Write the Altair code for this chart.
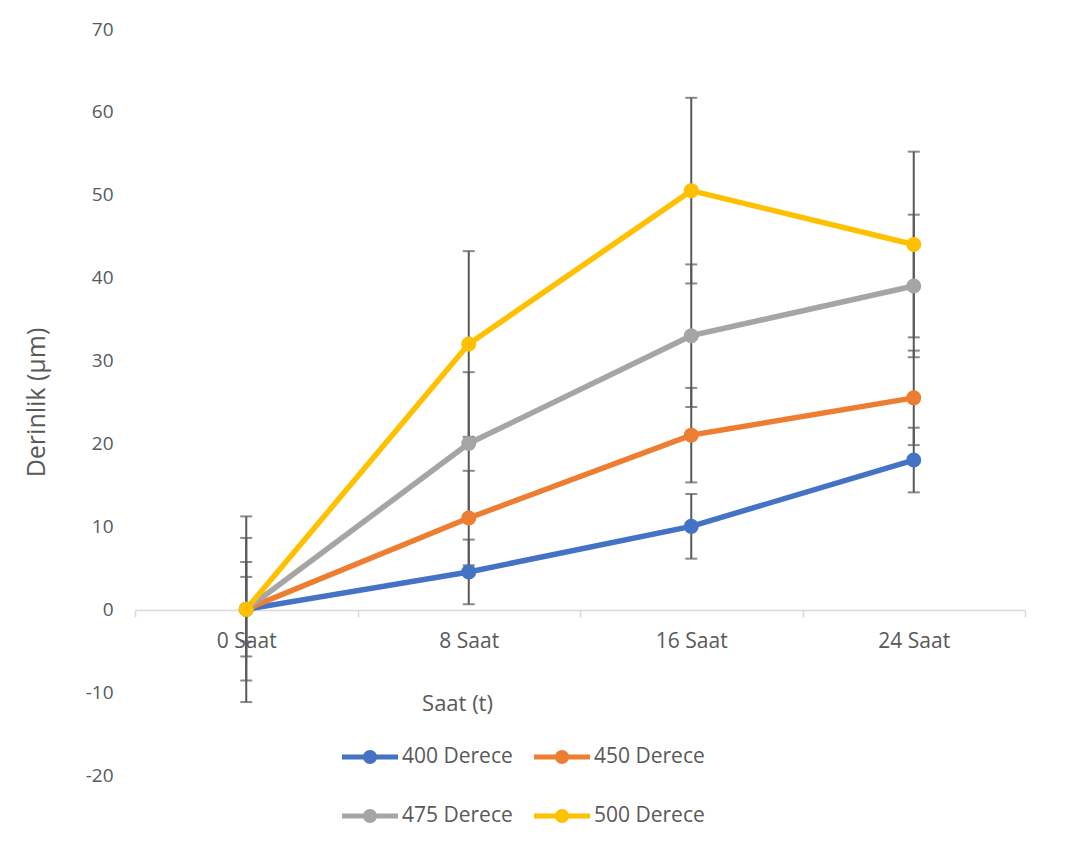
import altair as alt
import pandas as pd

times = ["0 Saat", "8 Saat", "16 Saat", "24 Saat"]
series = ["400 Derece", "450 Derece", "475 Derece", "500 Derece"]
values_400 = [0, 4.5, 10, 18]
values_450 = [0, 11, 21, 25.5]
values_475 = [0, 20, 33, 39]
values_500 = [0, 32, 50.5, 44]
errors = [3.9, 5.7, 8.6, 11.2]  # +/- per series
colors = ["#4472C4", "#ED7D31", "#A5A5A5", "#FFC000"]
y_ticks = [-20, -10, 0, 10, 20, 30, 40, 50, 60, 70]

rows = []
for s, vals, e in zip(series, [values_400, values_450, values_475, values_500], errors):
    for i, (t, v) in enumerate(zip(times, vals)):
        rows.append({"series": s, "order": series.index(s), "t": t, "v": v,
                     "lo": v - e, "hi": v + e})
df = pd.DataFrame(rows)

LABEL_FONT = "Open Sans"
GREY = "#595959"

x_enc = alt.X("t:N", sort=times, scale=alt.Scale(type="band", paddingInner=0, paddingOuter=0),
              axis=alt.Axis(title="Saat (t)", offset=-165, tickBand="extent", domainColor="#d9d9d9",
                            domainWidth=1.5, tickColor="#d9d9d9", tickWidth=1.5, tickSize=7,
                            labelAngle=0, labelFontSize=21, labelColor=GREY, labelFont=LABEL_FONT,
                            labelPadding=13, titleFont=LABEL_FONT, titleFontSize=22,
                            titleFontWeight="normal", titleColor=GREY, titleX=322, titleY=93,
                            titleBaseline="middle", titleAlign="center", grid=False))
y_scale = alt.Scale(domain=[-20, 70], nice=False, zero=False)
y_axis = alt.Axis(title="Derinlik (µm)", values=y_ticks, domain=False, ticks=False, grid=False,
                  labelExpr="'' + datum.value",
                  labelFontSize=19, labelColor=GREY, labelFont=LABEL_FONT, labelPadding=22,
                  titleFont=LABEL_FONT,
                  titleFontSize=25, titleFontWeight="normal", titleColor=GREY, titlePadding=36)

base = alt.Chart(df)

err_rule = base.mark_rule(color=GREY, strokeWidth=2).encode(
    x=x_enc, y=alt.Y("lo:Q", scale=y_scale, axis=y_axis), y2="hi:Q")
cap_lo = base.mark_tick(color=GREY, size=12, thickness=2).encode(
    x=alt.X("t:N", sort=times), y=alt.Y("lo:Q", scale=y_scale))
cap_hi = base.mark_tick(color=GREY, size=12, thickness=2).encode(
    x=alt.X("t:N", sort=times), y=alt.Y("hi:Q", scale=y_scale))

color_scale = alt.Scale(domain=series, range=colors)
legend_path = "M-1,-0.09H1V0.09H-1Z M0.25,0A0.25,0.25 0 1 1 -0.25,0A0.25,0.25 0 1 1 0.25,0Z"
legend = alt.Legend(title=None, orient="none", legendX=207, legendY=700,
                    columns=2, direction="horizontal", symbolType=legend_path,
                    symbolSize=3136, symbolStrokeWidth=0, labelFontSize=21,
                    labelFont=LABEL_FONT, labelColor=GREY, labelOffset=4,
                    columnPadding=21, rowPadding=21, padding=0)

lines = base.mark_line(strokeWidth=5.5).encode(
    x=alt.X("t:N", sort=times), y=alt.Y("v:Q", scale=y_scale),
    color=alt.Color("series:N", scale=color_scale, legend=legend),
    order=alt.Order("order:Q"))
points = base.mark_point(filled=True, size=225, opacity=1, shape="circle").encode(
    x=alt.X("t:N", sort=times), y=alt.Y("v:Q", scale=y_scale),
    color=alt.Color("series:N", scale=color_scale, legend=legend))

chart = alt.layer(err_rule, cap_lo, cap_hi, lines, points).properties(
    width=890, height=746,
    autosize=alt.AutoSizeParams(type="none"),
    padding={"left": 127, "top": 21, "right": 40, "bottom": 58},
).configure_view(strokeWidth=0)

chart.save("out.html", embed_options={"renderer": "svg", "actions": False})
